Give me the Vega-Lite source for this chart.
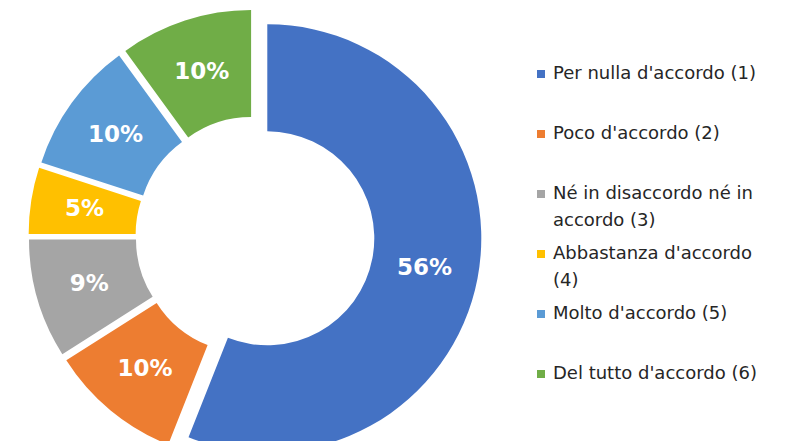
{
  "$schema": "https://vega.github.io/schema/vega-lite/v6.json",
  "width": 510,
  "height": 441,
  "autosize": {"type": "none"},
  "padding": {"left": 0, "top": 0, "right": 279, "bottom": 0},
  "background": "white",
  "config": {
    "view": {"stroke": null},
    "style": {"guide-label": {"lineHeight": 27}},
    "legend": {
      "labelFont": "DejaVu Sans",
      "labelFontSize": 18,
      "labelColor": "#262626",
      "labelLimit": 0,
      "symbolType": "square",
      "symbolSize": 64,
      "symbolStrokeWidth": 0,
      "labelOffset": 3,
      "rowPadding": 15,
      "gridAlign": "all",
      "columns": 1,
      "padding": 0
    }
  },
  "data": {
    "values": [
      {"k": 1, "cat": "Per nulla d'accordo (1)", "v": 0.56},
      {"k": 2, "cat": "Poco d'accordo (2)", "v": 0.10},
      {"k": 3, "cat": "Né in disaccordo né in accordo (3)", "v": 0.09},
      {"k": 4, "cat": "Abbastanza d'accordo (4)", "v": 0.05},
      {"k": 5, "cat": "Molto d'accordo (5)", "v": 0.10},
      {"k": 6, "cat": "Del tutto d'accordo (6)", "v": 0.10}
    ]
  },
  "encoding": {
    "theta": {"field": "v", "type": "quantitative", "stack": true},
    "order": {"field": "k", "type": "quantitative"},
    "color": {
      "field": "cat",
      "type": "nominal",
      "scale": {
        "domain": ["Per nulla d'accordo (1)", "Poco d'accordo (2)", "Né in disaccordo né in accordo (3)", "Abbastanza d'accordo (4)", "Molto d'accordo (5)", "Del tutto d'accordo (6)"],
        "range": ["#4472C4", "#ED7D31", "#A5A5A5", "#FFC000", "#5B9BD5", "#70AD47"]
      },
      "legend": {
        "title": null,
        "orient": "none",
        "legendX": 532,
        "legendY": 65,
        "labelExpr": "datum.value == \"Né in disaccordo né in accordo (3)\" ? [\"Né in disaccordo né in\", \"accordo (3)\"] : datum.value == \"Abbastanza d'accordo (4)\" ? [\"Abbastanza d'accordo\", \"(4)\"] : datum.value"
      }
    }
  },
  "layer": [
    {"mark": {"type": "arc", "innerRadius": 107, "outerRadius": 214, "xOffset": 12.3, "yOffset": 17.8}, "encoding": {"opacity": {"condition": {"test": "datum.k == 1", "value": 1}, "value": 0}}},
    {"mark": {"type": "arc", "innerRadius": 107, "outerRadius": 214, "xOffset": -8.0, "yOffset": 25.1}, "encoding": {"opacity": {"condition": {"test": "datum.k == 2", "value": 1}, "value": 0}}},
    {"mark": {"type": "arc", "innerRadius": 107, "outerRadius": 214, "xOffset": -12.0, "yOffset": 19.0}, "encoding": {"opacity": {"condition": {"test": "datum.k == 3", "value": 1}, "value": 0}}},
    {"mark": {"type": "arc", "innerRadius": 107, "outerRadius": 214, "xOffset": -12.35, "yOffset": 13.5}, "encoding": {"opacity": {"condition": {"test": "datum.k == 4", "value": 1}, "value": 0}}},
    {"mark": {"type": "arc", "innerRadius": 107, "outerRadius": 214, "xOffset": -10.1, "yOffset": 8.15}, "encoding": {"opacity": {"condition": {"test": "datum.k == 5", "value": 1}, "value": 0}}},
    {"mark": {"type": "arc", "innerRadius": 107, "outerRadius": 214, "xOffset": -3.9, "yOffset": 3.6}, "encoding": {"opacity": {"condition": {"test": "datum.k == 6", "value": 1}, "value": 0}}},
    {"mark": {"type": "text", "radius": 160, "font": "DejaVu Sans", "fontWeight": "bold", "fontSize": 23, "xOffset": 12.3, "yOffset": 17.8}, "encoding": {"text": {"field": "v", "format": ".0%"}, "color": {"value": "white"}, "opacity": {"condition": {"test": "datum.k == 1", "value": 1}, "value": 0}}},
    {"mark": {"type": "text", "radius": 160, "font": "DejaVu Sans", "fontWeight": "bold", "fontSize": 23, "xOffset": -8.0, "yOffset": 25.1}, "encoding": {"text": {"field": "v", "format": ".0%"}, "color": {"value": "white"}, "opacity": {"condition": {"test": "datum.k == 2", "value": 1}, "value": 0}}},
    {"mark": {"type": "text", "radius": 160, "font": "DejaVu Sans", "fontWeight": "bold", "fontSize": 23, "xOffset": -12.0, "yOffset": 19.0}, "encoding": {"text": {"field": "v", "format": ".0%"}, "color": {"value": "white"}, "opacity": {"condition": {"test": "datum.k == 3", "value": 1}, "value": 0}}},
    {"mark": {"type": "text", "radius": 160, "font": "DejaVu Sans", "fontWeight": "bold", "fontSize": 23, "xOffset": -12.35, "yOffset": 13.5}, "encoding": {"text": {"field": "v", "format": ".0%"}, "color": {"value": "white"}, "opacity": {"condition": {"test": "datum.k == 4", "value": 1}, "value": 0}}},
    {"mark": {"type": "text", "radius": 160, "font": "DejaVu Sans", "fontWeight": "bold", "fontSize": 23, "xOffset": -10.1, "yOffset": 8.15}, "encoding": {"text": {"field": "v", "format": ".0%"}, "color": {"value": "white"}, "opacity": {"condition": {"test": "datum.k == 5", "value": 1}, "value": 0}}},
    {"mark": {"type": "text", "radius": 160, "font": "DejaVu Sans", "fontWeight": "bold", "fontSize": 23, "xOffset": -3.9, "yOffset": 3.6}, "encoding": {"text": {"field": "v", "format": ".0%"}, "color": {"value": "white"}, "opacity": {"condition": {"test": "datum.k == 6", "value": 1}, "value": 0}}}
  ]
}
